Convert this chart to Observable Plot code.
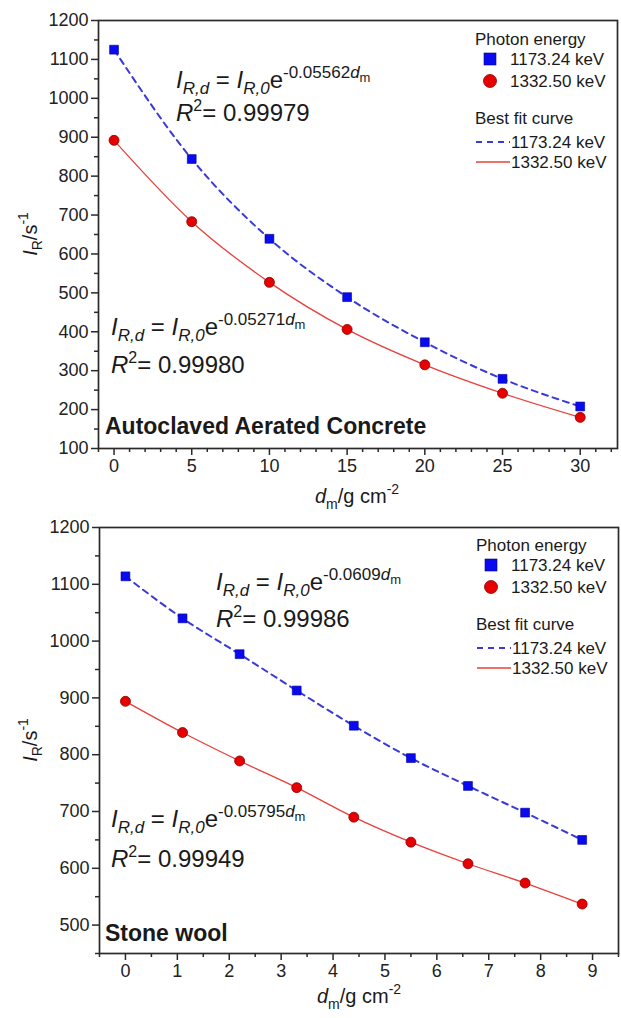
<!DOCTYPE html>
<html>
<head>
<meta charset="utf-8">
<script src="https://cdn.jsdelivr.net/npm/d3@7"></script>
<script src="https://cdn.jsdelivr.net/npm/@observablehq/plot@0.6"></script>
<style>
  html, body { margin: 0; padding: 0; background: #fff; }
  #chart svg { display: block; }
</style>
</head>
<body>
<div id="chart"></div>
<script>
// ---------- data ----------
const concreteX = [0, 5, 10, 15, 20, 25, 30];
const concrete1173 = [1125, 844, 639, 489, 373, 279, 208];
const concrete1332 = [892, 683, 527, 406, 315, 242, 180];

const woolX = [0, 1.1, 2.2, 3.3, 4.4, 5.5, 6.6, 7.7, 8.8];
const wool1173 = [1114, 1040, 977, 913, 851, 794, 745, 698, 650];
const wool1332 = [894, 839, 789, 742, 690, 646, 608, 574, 537];

const concreteXMajor = [0, 5, 10, 15, 20, 25, 30];
const concreteXMinor = [-1, 1, 2, 3, 4, 6, 7, 8, 9, 11, 12, 13, 14, 16, 17, 18, 19, 21, 22, 23, 24, 26, 27, 28, 29, 31, 32];
const concreteYMajor = [100, 200, 300, 400, 500, 600, 700, 800, 900, 1000, 1100, 1200];
const concreteYMinor = [150, 250, 350, 450, 550, 650, 750, 850, 950, 1050, 1150];

const woolXMajor = [0, 1, 2, 3, 4, 5, 6, 7, 8, 9];
const woolXMinor = [-0.5, 0.5, 1.5, 2.5, 3.5, 4.5, 5.5, 6.5, 7.5, 8.5, 9.5];
const woolYMajor = [500, 600, 700, 800, 900, 1000, 1100, 1200];
const woolYMinor = [450, 550, 650, 750, 850, 950, 1050, 1150];

const seriesNames = ["1173.24 keV", "1332.50 keV"];
const concreteFit = {k1173: "-0.05562", r1173: "0.99979", k1332: "-0.05271", r1332: "0.99980"};
const woolFit = {k1173: "-0.0609", r1173: "0.99986", k1332: "-0.05795", r1332: "0.99949"};

// ---------- style ----------
const FONT = "'Liberation Sans', Arial, Helvetica, sans-serif";
const BLUE_FILL = "#0a0af0";
const BLUE_LINE = "#3a3ad8";
const RED_FILL = "#e60000";
const RED_STROKE = "#8a0000";
const RED_LINE = "#e8403a";
const AXIS = "#2a2a2a";

function rows(xs, ys) { return xs.map((x, i) => ({x, y: ys[i]})); }

function panel(o) {
  const b = rows(o.xs, o.blue), r = rows(o.xs, o.red);
  return Plot.plot({
    width: 621,
    height: o.height,
    marginLeft: o.mL, marginRight: o.mR, marginTop: o.mT, marginBottom: o.mB,
    style: {fontFamily: FONT, fontSize: "18px", color: AXIS, background: "#fff", overflow: "visible"},
    x: {domain: o.xDomain},
    y: {domain: o.yDomain},
    marks: [
      Plot.line(b, {x: "x", y: "y", stroke: BLUE_LINE, strokeWidth: 2, strokeDasharray: "6,5", curve: "monotone-x"}),
      Plot.line(r, {x: "x", y: "y", stroke: RED_LINE, strokeWidth: 1.3, curve: "monotone-x"}),
      Plot.dot(b, {x: "x", y: "y", symbol: "square", r: 5, fill: BLUE_FILL, stroke: "#000090", strokeWidth: 0.6}),
      Plot.dot(r, {x: "x", y: "y", symbol: "circle", r: 5, fill: RED_FILL, stroke: RED_STROKE, strokeWidth: 0.8}),
      Plot.axisY(o.yMajor, {tickSize: 7, tickPadding: 3, label: null, strokeWidth: 1.5, fill: "#222", tickFormat: d => String(d)}),
      Plot.axisY(o.yMinor, {tickSize: 4, tickFormat: () => "", label: null, strokeWidth: 1.5}),
      Plot.axisX(o.xMajor, {tickSize: 7, tickPadding: 4, label: null, strokeWidth: 1.5, fill: "#222", tickFormat: d => String(d)}),
      Plot.axisX(o.xMinor, {tickSize: 4, tickFormat: () => "", label: null, strokeWidth: 1.5}),
      Plot.frame({stroke: AXIS, strokeWidth: 1.7})
    ]
  });
}

// rich text helper: segments [{t, it, bold, size, off}]
function rich(sel, x, y, segs, opts = {}) {
  const t = sel.append("text")
    .attr("font-family", FONT)
    .attr("fill", "#1a1a1a")
    .attr("text-anchor", opts.anchor || "start");
  if (opts.rotate) t.attr("transform", `translate(${x},${y}) rotate(-90)`);
  else t.attr("x", x).attr("y", y);
  let cur = 0;
  segs.forEach(s => {
    const ts = t.append("tspan")
      .attr("font-size", s.size)
      .attr("dy", (s.off || 0) - cur)
      .text(s.t);
    if (s.it) ts.attr("font-style", "italic");
    if (s.bold) ts.attr("font-weight", "bold");
    cur = s.off || 0;
  });
  return t;
}

function equation(sel, x, y, k) {
  rich(sel, x, y, [
    {t: "I", it: true, size: 24},
    {t: "R,d", it: true, size: 17, off: 6},
    {t: " = ", size: 24, off: 0},
    {t: "I", it: true, size: 24, off: 0},
    {t: "R,0", it: true, size: 17, off: 6},
    {t: "e", size: 24, off: 0},
    {t: k, size: 17, off: -10},
    {t: "d", it: true, size: 17, off: -10},
    {t: "m", size: 13, off: -6}
  ]);
}
function rsq(sel, x, y, v) {
  rich(sel, x, y, [
    {t: "R", it: true, size: 24},
    {t: "2", size: 16, off: -10},
    {t: "= " + v, size: 24, off: 0}
  ]);
}

function legend(sel, x0, top) {
  const g = sel.append("g").attr("font-family", FONT).attr("font-size", 17)
    .attr("fill", "#1a1a1a").attr("text-anchor", "start");
  g.append("text").attr("x", x0).attr("y", top + 6).text("Photon energy");
  g.append("rect").attr("x", x0 + 9).attr("y", top + 14).attr("width", 12).attr("height", 12)
    .attr("fill", BLUE_FILL).attr("stroke", "#000090").attr("stroke-width", 0.6);
  g.append("text").attr("x", x0 + 35).attr("y", top + 26).text(seriesNames[0]);
  g.append("circle").attr("cx", x0 + 15).attr("cy", top + 42).attr("r", 6.5)
    .attr("fill", RED_FILL).attr("stroke", RED_STROKE).attr("stroke-width", 0.8);
  g.append("text").attr("x", x0 + 35).attr("y", top + 48).text(seriesNames[1]);
  g.append("text").attr("x", x0).attr("y", top + 85).text("Best fit curve");
  g.append("line").attr("x1", x0 + 1).attr("x2", x0 + 35).attr("y1", top + 103).attr("y2", top + 103)
    .attr("stroke", BLUE_LINE).attr("stroke-width", 2).attr("stroke-dasharray", "6,5");
  g.append("text").attr("x", x0 + 36).attr("y", top + 109).text(seriesNames[0]);
  g.append("line").attr("x1", x0 + 1).attr("x2", x0 + 35).attr("y1", top + 123).attr("y2", top + 123)
    .attr("stroke", RED_LINE).attr("stroke-width", 1.3);
  g.append("text").attr("x", x0 + 36).attr("y", top + 129).text(seriesNames[1]);
}

function axisTitles(sel, cx, by, ax, cy) {
  rich(sel, cx, by, [
    {t: "d", it: true, size: 20},
    {t: "m", size: 14, off: 6},
    {t: "/g cm", size: 20, off: 0},
    {t: "-2", size: 14, off: -9}
  ], {anchor: "middle"});
  rich(sel, ax, cy, [
    {t: "I", it: true, size: 20},
    {t: "R", size: 14, off: 5},
    {t: "/s", size: 20, off: 0},
    {t: "-1", size: 14, off: -9}
  ], {anchor: "middle", rotate: true});
}

const chart = document.getElementById("chart");

// ---------- panel 1 ----------
const p1 = panel({
  xs: concreteX, blue: concrete1173, red: concrete1332,
  xDomain: [-1, 32.4], yDomain: [100, 1200],
  xMajor: concreteXMajor, xMinor: concreteXMinor, yMajor: concreteYMajor, yMinor: concreteYMinor,
  height: 500, mL: 98, mR: 4, mT: 20, mB: 52
});
chart.appendChild(p1);
{
  const s = d3.select(p1);
  equation(s, 176, 88, concreteFit.k1173);
  rsq(s, 176, 121, concreteFit.r1173);
  equation(s, 111, 335, concreteFit.k1332);
  rsq(s, 111, 373, concreteFit.r1332);
  rich(s, 105, 434, [{t: "Autoclaved Aerated Concrete", bold: true, size: 23}]);
  legend(s, 475, 39);
  axisTitles(s, 357, 503, 37, 234);
}

// ---------- panel 2 ----------
const p2 = panel({
  xs: woolX, blue: wool1173, red: wool1332,
  xDomain: [-0.5, 9.5], yDomain: [450, 1200],
  xMajor: woolXMajor, xMinor: woolXMinor, yMajor: woolYMajor, yMinor: woolYMinor,
  height: 518, mL: 99, mR: 3, mT: 27, mB: 65
});
chart.appendChild(p2);
{
  const s = d3.select(p2);
  equation(s, 216, 90, woolFit.k1173);
  rsq(s, 216, 127, woolFit.r1173);
  equation(s, 111, 327, woolFit.k1332);
  rsq(s, 111, 367, woolFit.r1332);
  rich(s, 105, 441, [{t: "Stone wool", bold: true, size: 23}]);
  legend(s, 476, 45);
  axisTitles(s, 359, 503, 37, 240);
}
</script>
</body>
</html>
